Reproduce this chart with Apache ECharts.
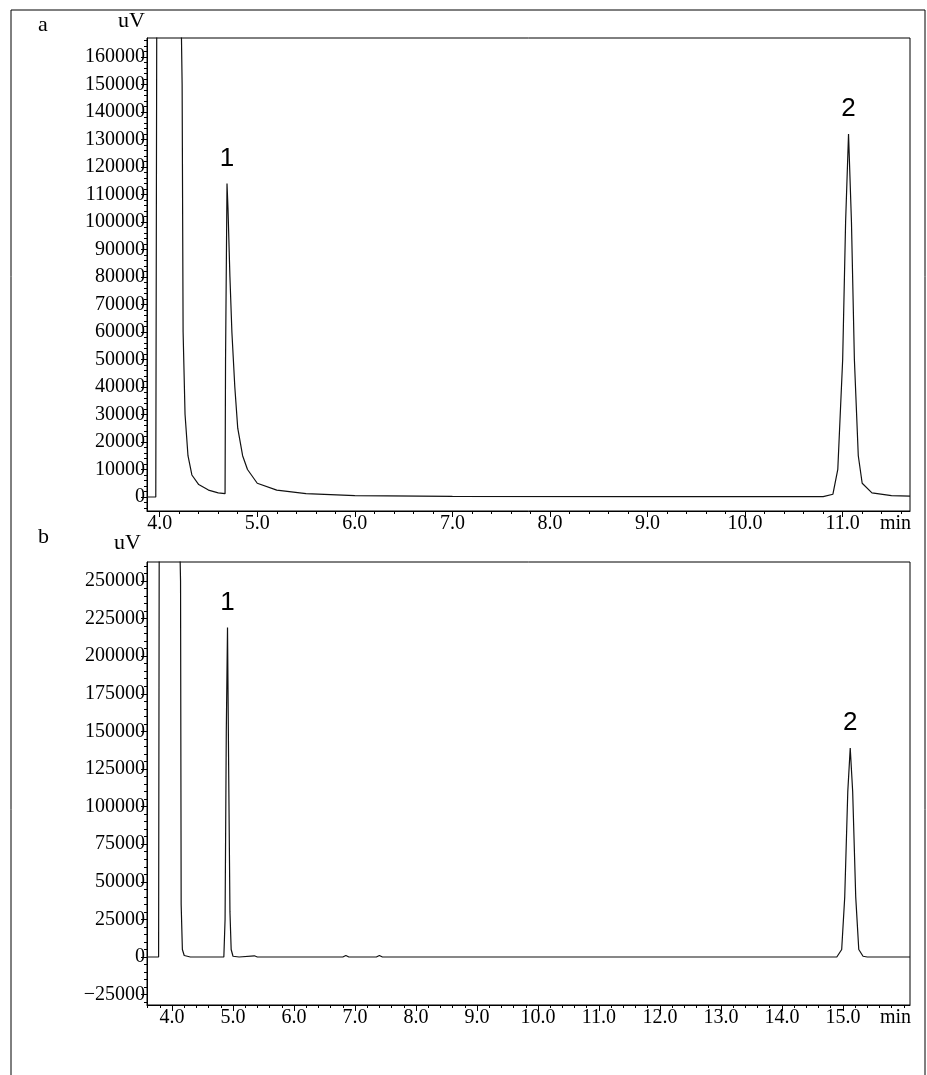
<!DOCTYPE html>
<html><head><meta charset="utf-8">
<script src="https://cdn.jsdelivr.net/npm/echarts@6/dist/echarts.min.js"></script>
<style>html,body{margin:0;background:#fff}#main{width:927px;height:1075px}</style>
</head><body><div id="main"></div>
<script>
// chromatogram a
var traceA = [[3.87,0],[3.96,0],[3.97,175000],[4.22,175000],[4.23,150000],[4.24,60000],[4.26,30000],[4.29,15000],[4.33,8000],[4.40,4500],[4.50,2500],[4.60,1500],[4.67,1200],[4.675,50000],[4.69,114000],[4.70,105000],[4.72,80000],[4.74,60000],[4.77,40000],[4.80,25000],[4.85,15000],[4.9,10000],[5.0,5000],[5.2,2500],[5.5,1200],[6.0,500],[7,200],[9,100],[10.8,100],[10.9,1000],[10.95,10000],[11.0,50000],[11.03,100000],[11.06,132000],[11.09,100000],[11.12,50000],[11.16,15000],[11.2,5000],[11.3,1500],[11.5,500],[11.69,300]];
// chromatogram b
var traceB = [[3.59,0],[3.78,0],[3.79,270000],[4.13,270000],[4.14,250000],[4.15,35000],[4.17,5000],[4.2,1000],[4.3,0],[4.85,0],[4.87,25000],[4.89,150000],[4.91,219000],[4.93,120000],[4.95,30000],[4.97,5000],[5.0,500],[5.1,0],[5.35,800],[5.4,0],[6.8,0],[6.85,1000],[6.9,0],[7.35,0],[7.4,1000],[7.45,0],[14.9,0],[14.98,5000],[15.03,40000],[15.08,110000],[15.12,139000],[15.16,110000],[15.21,40000],[15.26,5000],[15.33,500],[15.4,0],[16.1,0]];
var peaksA = [{name:'1', coord:[4.69,114000]}, {name:'2', coord:[11.06,132000]}];
var peaksB = [{name:'1', coord:[4.91,219000]}, {name:'2', coord:[15.12,139000]}];
var xTicksA = [4,5,6,7,8,9,10,11];
var xTicksB = [4,5,6,7,8,9,10,11,12,13,14,15];
var yTicksA = [0,10000,20000,30000,40000,50000,60000,70000,80000,90000,100000,110000,120000,130000,140000,150000,160000];
var yTicksB = [-25000,0,25000,50000,75000,100000,125000,150000,175000,200000,225000,250000];

function steps(a, b, d) {
    var out = [];
    for (var v = a; v <= b + 1e-9; v += d) out.push(Math.round(v * 1000) / 1000);
    return out;
}
var font = 'Liberation Serif';
var col = '#000';

function xAxes(idx, min, max, ticks) {
    return [{
        type:'value', gridIndex:idx, min:min, max:max, position:'bottom',
        name:'min', nameLocation:'end', nameGap:-30,
        nameTextStyle:{fontFamily:font, fontSize:20, color:col, verticalAlign:'top', padding:[3,0,0,0]},
        axisLine:{onZero:false, lineStyle:{color:col}}, splitLine:{show:false},
        axisTick:{customValues:ticks, length:6, lineStyle:{color:col}},
        axisLabel:{customValues:ticks, fontFamily:font, fontSize:20, color:col, margin:3,
            formatter:function(v){return v.toFixed(1);}}
    },{
        type:'value', gridIndex:idx, min:min, max:max, position:'bottom',
        axisLine:{show:false, onZero:false}, splitLine:{show:false}, axisLabel:{show:false},
        axisTick:{customValues:steps(Math.ceil(min*5)/5, max, 0.2), length:3, lineStyle:{color:col}}
    }];
}
function yAxes(idx, min, max, ticks, minor) {
    return [{
        type:'value', gridIndex:idx, min:min, max:max, position:'left',
        axisLine:{onZero:false, lineStyle:{color:col}}, splitLine:{show:false},
        axisTick:{customValues:ticks, length:6, lineStyle:{color:col}},
        axisLabel:{customValues:ticks, fontFamily:font, fontSize:20, color:col, margin:2,
            formatter:function(v){return v < 0 ? '\u2212' + (-v) : String(v);}}
    },{
        type:'value', gridIndex:idx, min:min, max:max, position:'left',
        axisLine:{show:false, onZero:false}, splitLine:{show:false}, axisLabel:{show:false},
        axisTick:{customValues:steps(Math.ceil(min/minor)*minor, max, minor), length:3, lineStyle:{color:col}}
    }];
}
function trace(idx, data, peaks) {
    return {
        type:'line', xAxisIndex:idx*2, yAxisIndex:idx*2, data:data, symbol:'none',
        lineStyle:{color:'#111', width:1.2}, clip:true, animation:false,
        markPoint:{symbol:'circle', symbolSize:0, data:peaks,
            label:{show:true, formatter:'{b}', fontFamily:'Liberation Sans', fontSize:26, color:col, position:'top', distance:12}}
    };
}

var myChart = echarts.init(document.getElementById('main'));
var option = {
    animation:false,
    grid:[
        {left:147, top:38, right:17, height:473, show:true, borderColor:col, borderWidth:1},
        {left:147, top:562, right:17, height:443, show:true, borderColor:col, borderWidth:1}
    ],
    xAxis: xAxes(0, 3.87, 11.69, xTicksA).concat(xAxes(1, 3.59, 16.1, xTicksB)),
    yAxis: yAxes(0, -5100, 166900, yTicksA, 2000).concat(yAxes(1, -31900, 262600, yTicksB, 5000)),
    series:[trace(0, traceA, peaksA), trace(1, traceB, peaksB)],
    graphic:[
        {type:'rect', shape:{x:11,y:10,width:914,height:1080}, style:{fill:null, stroke:col, lineWidth:1}},
        {type:'text', left:38, top:14, style:{text:'a', font:'22px Liberation Serif', fill:col}},
        {type:'text', left:118, top:10, style:{text:'uV', font:'22px Liberation Serif', fill:col}},
        {type:'text', left:38, top:526, style:{text:'b', font:'22px Liberation Serif', fill:col}},
        {type:'text', left:114, top:532, style:{text:'uV', font:'22px Liberation Serif', fill:col}}
    ]
};
myChart.setOption(option);
</script></body></html>
